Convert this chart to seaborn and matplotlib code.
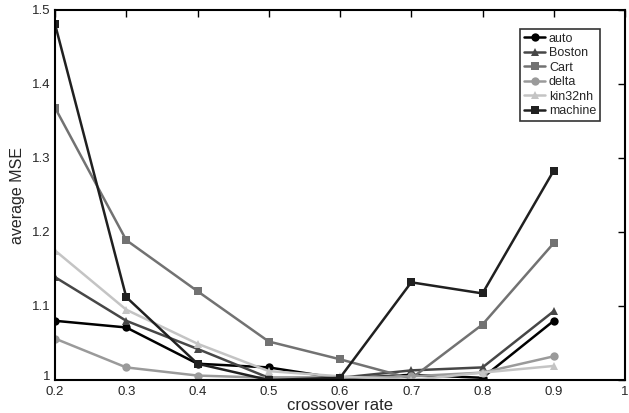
import matplotlib
matplotlib.use("Agg")
import matplotlib.pyplot as plt
import matplotlib.transforms as mtransforms
import seaborn as sns
import pandas as pd

# crossover rate vs average MSE per dataset
rates = [0.2, 0.3, 0.4, 0.5, 0.6, 0.7, 0.8, 0.9]
auto = [1.080, 1.071, 1.022, 1.017, 1.002, 1.007, 1.003, 1.080]
boston = [1.139, 1.080, 1.042, 1.003, 1.003, 1.013, 1.017, 1.093]
cart = [1.368, 1.189, 1.120, 1.052, 1.028, 1.002, 1.075, 1.185]
delta = [1.056, 1.017, 1.006, 1.003, 1.003, 1.005, 1.010, 1.032]
kin32nh = [1.175, 1.095, 1.049, 1.012, 1.005, 1.000, 1.010, 1.019]
machine = [1.481, 1.112, 1.022, 1.000, 1.003, 1.132, 1.117, 1.283]

names = ["auto", "Boston", "Cart", "delta", "kin32nh", "machine"]
series = [auto, boston, cart, delta, kin32nh, machine]

rows = []
for name, vals in zip(names, series):
    for r, v in zip(rates, vals):
        rows.append({"rate": r, "mse": v, "dataset": name})
df = pd.DataFrame(rows)

colors = ["#000000", "#474747", "#727272", "#9a9a9a", "#c4c4c4", "#202020"]
markers = ["o", "^", "s", "o", "^", "s"]

sns.set_style("white")
plt.rcParams["font.family"] = ["Liberation Sans", "DejaVu Sans"]

fig = plt.figure(figsize=(6.29, 4.13), dpi=100)
ax = fig.add_axes([55 / 629, 33 / 413, 570 / 629, 370 / 413])

sns.lineplot(data=df, x="rate", y="mse", hue="dataset", style="dataset",
             palette=dict(zip(names, colors)), markers=dict(zip(names, markers)),
             dashes=False, markersize=6, linewidth=1.8, markeredgewidth=0,
             ax=ax)

ax.set_xlim(0.2, 1.0)
ax.set_ylim(1.0, 1.5)
ax.set_xticks([0.2, 0.3, 0.4, 0.5, 0.6, 0.7, 0.8, 0.9, 1.0])
ax.set_xticklabels(["0.2", "0.3", "0.4", "0.5", "0.6", "0.7", "0.8", "0.9", "1"])
ax.set_yticks([1.0, 1.1, 1.2, 1.3, 1.4, 1.5])
ax.set_yticklabels(["1", "1.1", "1.2", "1.3", "1.4", "1.5"])
ax.tick_params(direction="in", top=True, right=True, length=5, width=1,
               labelsize=9.5, pad=3, color="black")
ax.tick_params(axis="x", pad=4)
for s in ax.spines.values():
    s.set_color("black")
    s.set_linewidth(1.5)

# nudge the bottom "1" up a little so it clears the "0.2" below it
lab = ax.get_yticklabels()[0]
lab.set_transform(lab.get_transform() +
                  mtransforms.ScaledTranslation(0, 3 / 72, fig.dpi_scale_trans))

ax.set_xlabel("crossover rate", fontsize=12, labelpad=0)
ax.set_ylabel("average MSE", fontsize=11.5, labelpad=5)

leg = ax.legend(title=None, loc="upper right", bbox_to_anchor=(0.956, 0.949),
                fontsize=9, frameon=True, fancybox=False, handlelength=1.7,
                handletextpad=0.3, borderpad=0.3, labelspacing=0.2,
                borderaxespad=0)
leg.get_frame().set_edgecolor("black")
leg.get_frame().set_linewidth(1.2)

fig.savefig("out.png", dpi=100)
